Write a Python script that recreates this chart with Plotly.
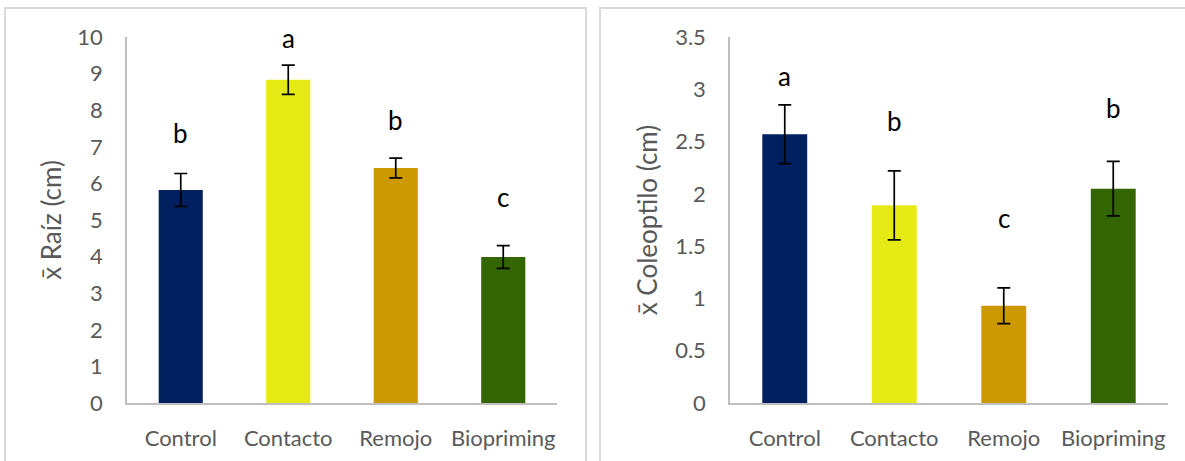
import plotly.graph_objects as go

categories = ["Control", "Contacto", "Remojo", "Biopriming"]
colors = ["#002060", "#E6EA14", "#CC9900", "#336600"]

raiz_mean = [5.82, 8.83, 6.42, 3.99]
raiz_err = [0.45, 0.40, 0.27, 0.31]
raiz_letters = ["b", "a", "b", "c"]
raiz_letter_y = [7.38, 9.97, 7.73, 5.63]

coleo_mean = [2.57, 1.89, 0.93, 2.05]
coleo_err = [0.28, 0.33, 0.17, 0.26]
coleo_letters = ["a", "b", "c", "b"]
coleo_letter_y = [3.13, 2.70, 1.77, 2.82]

W, H = 1185, 461
FONT = "Lato, Open Sans, sans-serif"
GRAY = "#595959"

fig = go.Figure()

def add_bars(xa, ya, means, errs):
    fig.add_trace(go.Bar(
        x=categories, y=means, marker=dict(color=colors, line=dict(width=0)),
        error_y=dict(type="data", array=errs, visible=True, color="black", thickness=1.7, width=6.5),
        xaxis=xa, yaxis=ya, showlegend=False, hoverinfo="skip"))

add_bars("x", "y", raiz_mean, raiz_err)
add_bars("x2", "y2", coleo_mean, coleo_err)

for c, l, yy in zip(categories, raiz_letters, raiz_letter_y):
    fig.add_annotation(x=c, y=yy, xref="x", yref="y", text=l, showarrow=False,
                       font=dict(family=FONT, size=26, color="black"))
for c, l, yy in zip(categories, coleo_letters, coleo_letter_y):
    fig.add_annotation(x=c, y=yy, xref="x2", yref="y2", text=l, showarrow=False,
                       font=dict(family=FONT, size=26, color="black"))

ydom = [(H - 403) / H, (H - 37) / H]
axis_common = dict(showgrid=False, zeroline=False, showline=True, linecolor="#BFBFBF",
                   linewidth=1.5, ticks="", automargin=False,
                   tickfont=dict(family=FONT, size=22, color=GRAY))

fig.update_layout(
    width=W, height=H, margin=dict(l=0, r=0, t=0, b=0, pad=0, autoexpand=False),
    paper_bgcolor="white", plot_bgcolor="white", bargap=0.59, showlegend=False,
    xaxis=dict(domain=[127 / W, 557 / W], ticklabelstandoff=15, **axis_common),
    yaxis=dict(domain=ydom, range=[0, 10], dtick=1, ticklabelstandoff=18,
               title=dict(text="x̄ Raíz (cm)", standoff=8,
                          font=dict(family=FONT, size=26, color=GRAY)),
               anchor="x", **axis_common),
    xaxis2=dict(domain=[730 / W, 1168 / W], anchor="y2", ticklabelstandoff=15, **axis_common),
    yaxis2=dict(domain=ydom, range=[0, 3.5], dtick=0.5, ticklabelstandoff=18,
                title=dict(text="x̄ Coleoptilo (cm)", standoff=10,
                           font=dict(family=FONT, size=26, color=GRAY)),
                anchor="x2", **axis_common),
    font=dict(family=FONT),
)

# panel frames
fig.add_shape(type="rect", xref="paper", yref="paper",
              x0=5 / W, x1=586 / W, y0=-0.05, y1=(H - 8) / H,
              line=dict(color="#D9D9D9", width=2), fillcolor="rgba(0,0,0,0)", layer="below")
fig.add_shape(type="rect", xref="paper", yref="paper",
              x0=600 / W, x1=1.05, y0=-0.05, y1=(H - 8) / H,
              line=dict(color="#D9D9D9", width=2), fillcolor="rgba(0,0,0,0)", layer="below")

fig.write_html("out.html")
